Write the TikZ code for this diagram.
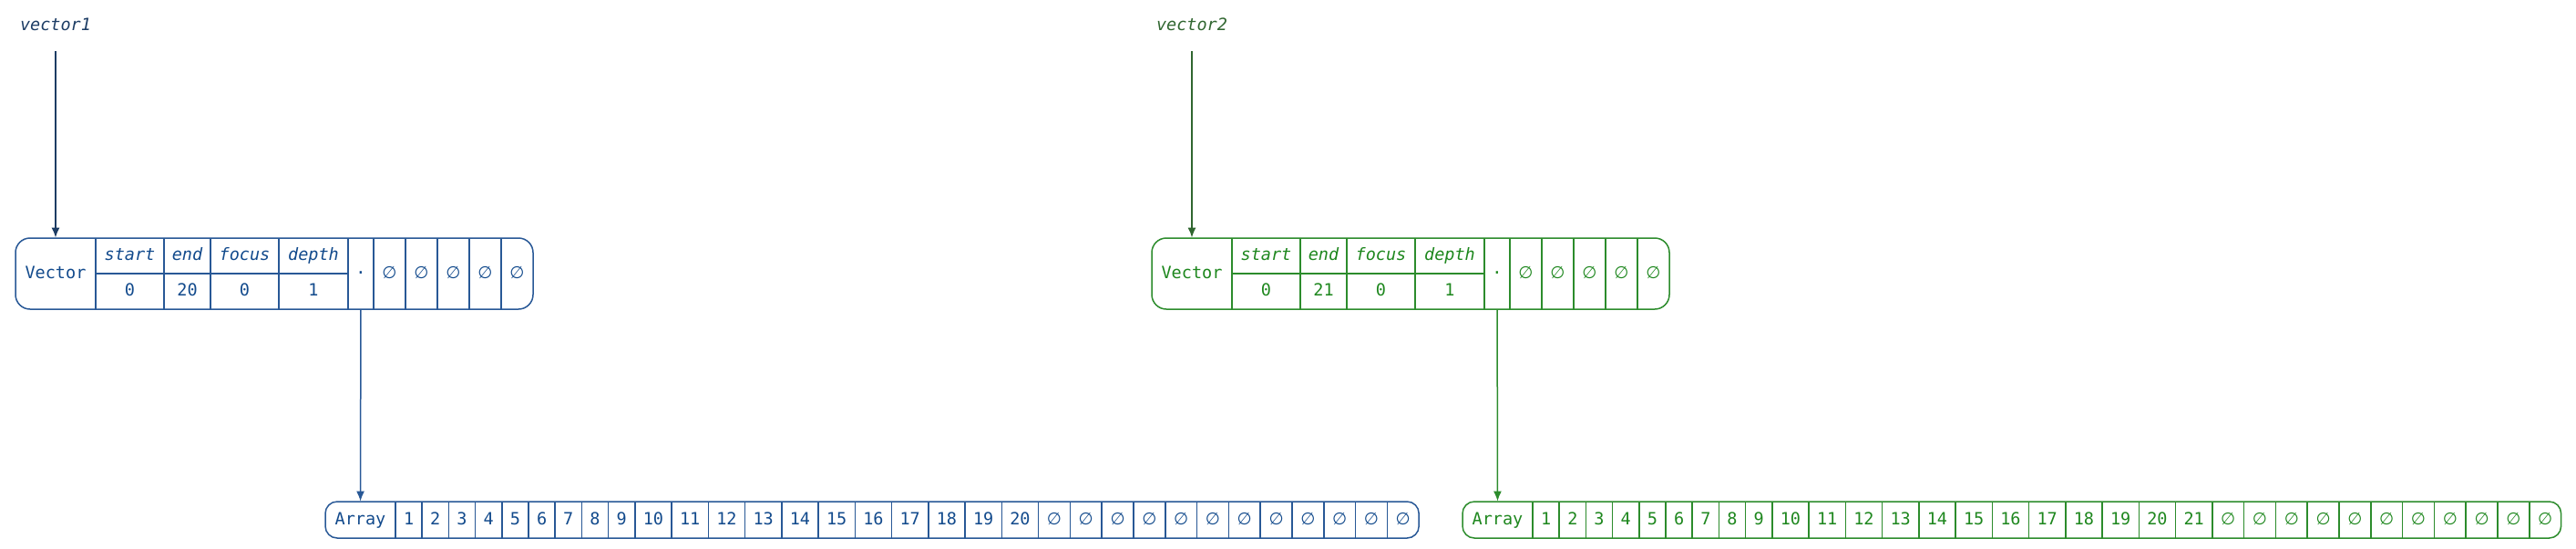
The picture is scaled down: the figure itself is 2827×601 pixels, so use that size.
\documentclass[tikz,border=0pt]{standalone}
\usepackage{fontspec}
\setmonofont{DejaVu Sans Mono}
\newfontfamily\symf{DejaVu Sans}
\usetikzlibrary{arrows.meta}
\definecolor{bline}{RGB}{40,88,150}
\definecolor{btext}{RGB}{18,74,140}
\definecolor{blabel}{RGB}{28,60,100}
\definecolor{gline}{RGB}{44,140,44}
\definecolor{gtext}{RGB}{30,135,30}
\definecolor{glabel}{RGB}{48,102,48}
\newcommand\emptyc{{\symf ∅}}
\newcommand\vecrec[8]{%
\begin{scope}[shift={(#2,0)}]
 \node[lbl, text=#6] (#1l) at (61,28) {#7};
 \draw[rec, #4, rounded corners=8pt] (17,261) rectangle (585,339);
 \foreach \x in {105,180,231,306,382,410,445,480,515,550} \draw[rec,#4] (\x,261) -- (\x,339);
 \draw[rec,#4] (105,300) -- (382,300);
 \node[cellt, text=#5, minimum width=44pt, minimum height=39pt] (#1n) at (61,300) {Vector};
 \node[hdr, text=#5] (#1sh) at (142.5,280.5) {start};
 \node[hdr, text=#5] (#1eh) at (205.5,280.5) {end};
 \node[hdr, text=#5] (#1fh) at (268.5,280.5) {focus};
 \node[hdr, text=#5] (#1dh) at (344,280.5) {depth};
 \node[cellt, text=#5] (#1sv) at (142.5,319) {0};
 \node[cellt, text=#5] (#1ev) at (205.5,319) {#3};
 \node[cellt, text=#5] (#1fv) at (268.5,319) {0};
 \node[cellt, text=#5] (#1dv) at (344,319) {1};
 \node[cellt, text=#5, minimum width=14pt, minimum height=39pt] (#1d) at (396,300) {·};
 \foreach \k in {1,...,5} \node[cellt, text=#5] (#1e\k) at ({410+35*(\k-0.5)},300) {\emptyc};
\end{scope}}
\newcommand\arrrec[6]{%
 \draw[rec,#5,rounded corners=6.5pt] (#2,550) rectangle ({#2+77+262.8+40.25*(#3-9)+34.8*#4},590);
 \node[cellt,text=#6,minimum width=38.5pt,minimum height=20pt] (#1n) at ({#2+38.5},570) {Array};
 \foreach \i in {1,...,9}{
  \node[cellt,text=#6] (#1c\i) at ({#2+77+29.2*(\i-0.5)},570) {\i};
  \draw[rec,#5] ({#2+77+29.2*(\i-1)},550) -- ++(0,40);
 }
 \foreach \i in {10,...,#3}{
  \node[cellt,text=#6] (#1c\i) at ({#2+77+262.8+40.25*(\i-9.5)},570) {\i};
  \draw[rec,#5] ({#2+77+262.8+40.25*(\i-10)},550) -- ++(0,40);
 }
 \foreach \k in {1,...,#4}{
  \node[cellt,text=#6] (#1e\k) at ({#2+77+262.8+40.25*(#3-9)+34.8*(\k-0.5)},570) {\emptyc};
  \draw[rec,#5] ({#2+77+262.8+40.25*(#3-9)+34.8*(\k-1)},550) -- ++(0,40);
 }
}
\begin{document}
\begin{tikzpicture}[x=0.5pt,y=-0.5pt,
  font=\ttfamily\fontsize{9.25}{11}\selectfont,
  cellt/.style={inner sep=0pt, text height=7pt, text depth=2pt},
  hdr/.style={cellt, font=\ttfamily\itshape\fontsize{9.25}{11}\selectfont},
  lbl/.style={hdr},
  rec/.style={line width=0.75pt},
  arr/.style={line width=0.75pt, -{Latex[length=5.5pt,width=4.5pt]}}]
\useasboundingbox (0,0) rectangle (2827,601);
\vecrec{v1}{0}{20}{bline}{btext}{blabel}{vector1}{}
\vecrec{v2}{1247}{21}{gline}{gtext}{glabel}{vector2}{}
\arrrec{a1}{357}{20}{12}{bline}{btext}
\arrrec{a2}{1605}{21}{11}{gline}{gtext}
\draw[arr, blabel, shorten <=9.5pt] (v1l) -- (v1n);
\draw[arr, glabel, shorten <=9.5pt] (v2l) -- (v2n);
\draw[arr, bline] (v1d) -- (a1n);
\draw[arr, gline] (v2d) -- (a2n);
\end{tikzpicture}
\end{document}
